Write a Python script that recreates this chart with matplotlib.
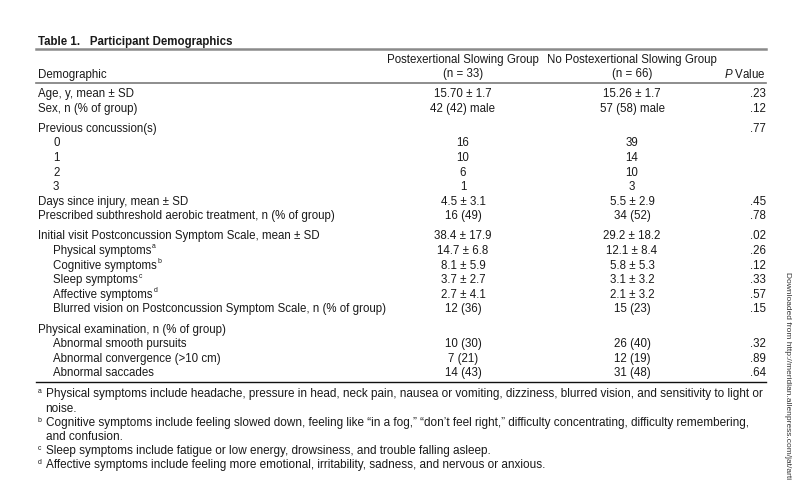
import matplotlib.pyplot as plt

plt.rcParams['font.family'] = ['Liberation Sans', 'DejaVu Sans']
plt.rcParams['mathtext.fontset'] = 'custom'
plt.rcParams['mathtext.rm'] = 'Liberation Sans'
plt.rcParams['mathtext.it'] = 'Liberation Sans:italic'

title = "Table 1.   Participant Demographics"
group_names = ["Postexertional Slowing Group", "No Postexertional Slowing Group"]
group_sizes = ["(n = 33)", "(n = 66)"]

row_labels = [
    "Age, y, mean ± SD",
    "Sex, n (% of group)",
    "Previous concussion(s)",
    "0", "1", "2", "3",
    "Days since injury, mean ± SD",
    "Prescribed subthreshold aerobic treatment, n (% of group)",
    "Initial visit Postconcussion Symptom Scale, mean ± SD",
    "Physical symptoms",
    "Cognitive symptoms",
    "Sleep symptoms",
    "Affective symptoms",
    "Blurred vision on Postconcussion Symptom Scale, n (% of group)",
    "Physical examination, n (% of group)",
    "Abnormal smooth pursuits",
    "Abnormal convergence (>10 cm)",
    "Abnormal saccades",
]
row_marks = {10: "a", 11: "b", 12: "c", 13: "d"}
sub_rows = [3, 4, 5, 6, 10, 11, 12, 13, 14, 16, 17, 18]
group_starts = [2, 9, 15]

slowing = ["15.70 ± 1.7", "42 (42) male", "", "16", "10", "6", "1",
           "4.5 ± 3.1", "16 (49)", "38.4 ± 17.9", "14.7 ± 6.8", "8.1 ± 5.9",
           "3.7 ± 2.7", "2.7 ± 4.1", "12 (36)", "", "10 (30)", "7 (21)", "14 (43)"]
no_slowing = ["15.26 ± 1.7", "57 (58) male", "", "39", "14", "10", "3",
              "5.5 ± 2.9", "34 (52)", "29.2 ± 18.2", "12.1 ± 8.4", "5.8 ± 5.3",
              "3.1 ± 3.2", "2.1 ± 3.2", "15 (23)", "", "26 (40)", "12 (19)", "31 (48)"]
p_values = [".23", ".12", ".77", "", "", "", "", ".45", ".78", ".02", ".26", ".12",
            ".33", ".57", ".15", "", ".32", ".89", ".64"]

footnotes = [
    ("a", ["Physical symptoms include headache, pressure in head, neck pain, nausea or vomiting, dizziness, blurred vision, and sensitivity to light or",
           "noise."]),
    ("b", ["Cognitive symptoms include feeling slowed down, feeling like \u201cin a fog,\u201d \u201cdon\u2019t feel right,\u201d difficulty concentrating, difficulty remembering,",
           "and confusion."]),
    ("c", ["Sleep symptoms include fatigue or low energy, drowsiness, and trouble falling asleep."]),
    ("d", ["Affective symptoms include feeling more emotional, irritability, sadness, and nervous or anxious."]),
]
side_note = "Downloaded from http://meridian.allenpress.com/jat/arti"

fig = plt.figure(figsize=(8, 4.8), dpi=100)
ax = fig.add_axes([0, 0, 1, 1])
ax.set_xlim(0, 800)
ax.set_ylim(480, 0)
ax.axis('off')
renderer = fig.canvas.get_renderer()

fs = 8.3
tc = '#1a1a1a'
left, right = 38, 766
col1, col2 = 463, 632
b = 4  # baseline offset from row centre

ax.text(left, 41 + b, title, fontsize=fs, fontweight='bold', color=tc, va='baseline')
ax.plot([36, right], [49, 49], color='#8a8a8a', lw=1.8)

for cx, name, n in zip([col1, col2], group_names, group_sizes):
    ax.text(cx, 59 + b, name, fontsize=fs, color=tc, ha='center', va='baseline')
    ax.text(cx, 73 + b, n, fontsize=fs, color=tc, ha='center', va='baseline')
ax.text(left, 74 + b, "Demographic", fontsize=fs, color=tc, va='baseline')
ax.text(right, 74 + b, r"$\mathit{P}$ Value", fontsize=fs, color=tc, ha='right', va='baseline')
ax.plot([36, right], [83, 83], color='#7a7a7a', lw=1.2)

y = 93
for i, lab in enumerate(row_labels):
    if i in group_starts:
        y += 5.5
    x = left + 15 if i in sub_rows else left
    t = ax.text(x, y + b, lab, fontsize=fs, color=tc, va='baseline')
    if i in row_marks:
        w = t.get_window_extent(renderer).width
        ax.text(x + w + 0.8, y - 1.5, row_marks[i], fontsize=fs * 0.6, color=tc, va='baseline')
    ax.text(col1, y + b, slowing[i], fontsize=fs, color=tc, ha='center', va='baseline')
    ax.text(col2, y + b, no_slowing[i], fontsize=fs, color=tc, ha='center', va='baseline')
    ax.text(right, y + b, p_values[i], fontsize=fs, color=tc, ha='right', va='baseline')
    last_y = y
    y += 14.6

ax.plot([36, right], [last_y + 10, last_y + 10], color='#111111', lw=1.0)

y = last_y + 21
for letter, lines in footnotes:
    ax.text(left, y, letter, fontsize=fs * 0.6, color=tc, va='baseline')
    for ln in lines:
        ax.text(left + 7.5, y + b, ln, fontsize=8.5, color=tc, va='baseline')
        y += 14.2

ax.text(787, 272, side_note, fontsize=6.0, color='#333333', rotation=270,
        ha='center', va='top')

fig.savefig("out.png", dpi=100)
